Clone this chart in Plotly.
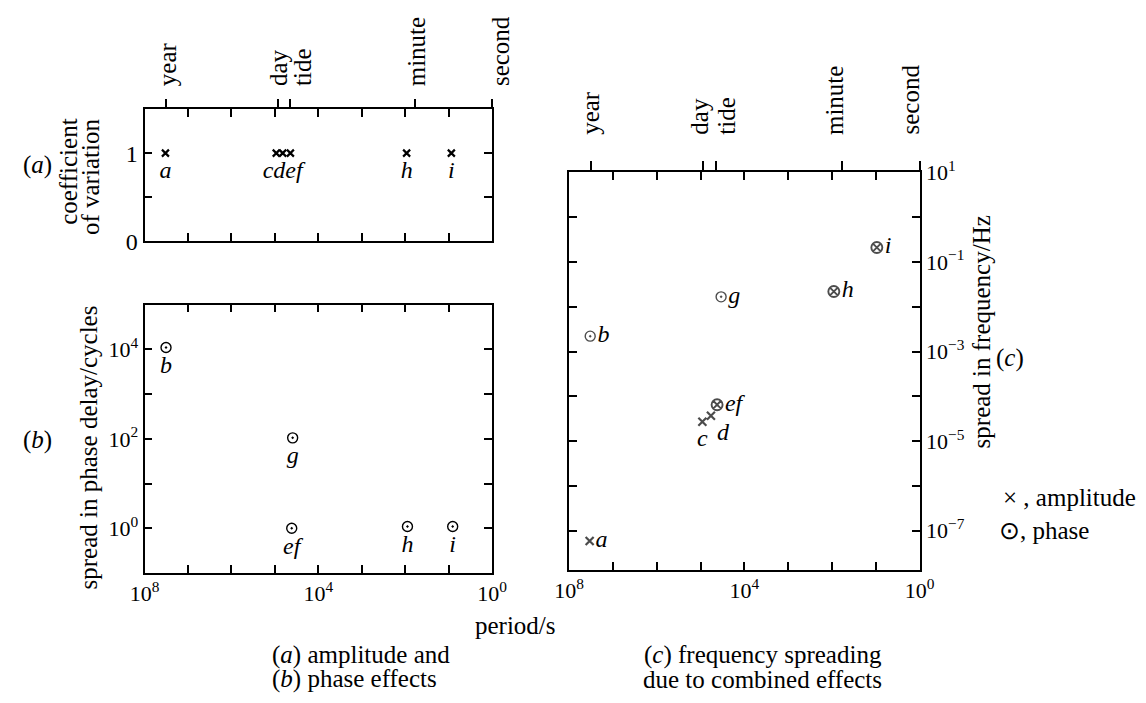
import plotly.graph_objects as go
import math

W, H = 1146, 703
FONT = "Liberation Serif"

# ---------------- data ----------------
landmark_names = ["year", "day", "tide", "minute", "second"]
landmark_periods = [3.156e7, 86400, 44712, 60, 1]

# (a) amplitude effects: coefficient of variation
amp_names = ["a", "c", "d", "e", "h", "i"]
amp_text = ["a", "", "cdef", "", "h", "i"]
amp_period = [3.3e7, 9.3e4, 6.6e4, 4.4e4, 93, 8.7]
amp_cov = [1, 1, 1, 1, 1, 1]

# (b) phase effects: spread in phase delay / cycles
ph_names = ["b", "g", "ef", "h", "i"]
ph_period = [3.2e7, 3.9e4, 4.1e4, 89, 8.1]
ph_spread = [1.1e4, 105, 1.0, 1.1, 1.1]

# (c) frequency spreading due to combined effects
fr_names = ["a", "b", "c", "d", "ef", "g", "h", "i"]
fr_period = [3.4e7, 3.3e7, 9.1e4, 5.8e4, 4.2e4, 3.4e4, 91, 9.5]
fr_spread = [5.9e-8, 2.2e-3, 2.7e-5, 3.7e-5, 6.5e-5, 1.66e-2, 2.19e-2, 0.21]
fr_kind = ["amp", "phase", "amp", "amp", "both", "phase", "both", "both"]
fr_textpos = ["middle right", "middle right", "bottom center", "bottom right",
              "middle right", "middle right", "middle right", "middle right"]

# axis ticks
x_decades = [10 ** k for k in range(0, 9)]
x_labeled = [1e8, 1e4, 1]
x_ticktext = ["10<sup>8</sup>", "10<sup>4</sup>", "10<sup>0</sup>"]
b_decades = [10 ** k for k in range(-1, 6)]
b_labeled = [1e4, 1e2, 1]
b_ticktext = ["10<sup>4</sup>", "10<sup>2</sup>", "10<sup>0</sup>"]
c_decades = [10 ** k for k in range(-7, 2)]
c_labeled = [10.0, 1e-1, 1e-3, 1e-5, 1e-7]
c_ticktext = ["10<sup>1</sup>", "10<sup>−1</sup>", "10<sup>−3</sup>", "10<sup>−5</sup>", "10<sup>−7</sup>"]

# ---------------- helpers ----------------
def fx(px):
    return px / W

def fy(py):
    return 1 - py / H

sym_map = {"amp": "x-thin", "phase": "circle-open-dot", "both": "circle-x-open"}
size_map = {"amp": 8, "phase": 10, "both": 11}
lw_map = {"amp": 2.2, "phase": 1.4, "both": 1.9}
TF = dict(family=FONT, size=24, color="black")

fig = go.Figure()

# (a)
fig.add_trace(go.Scatter(
    x=amp_period, y=amp_cov, mode="markers", xaxis="x", yaxis="y",
    marker=dict(symbol="x-thin", size=7, color="black", line=dict(color="black", width=2.2)),
    showlegend=False, hoverinfo="skip"))
lab_idx = [i for i, t in enumerate(amp_text) if t]
fig.add_trace(go.Scatter(
    x=[amp_period[i] for i in lab_idx], y=[amp_cov[i] for i in lab_idx], mode="markers+text",
    xaxis="x", yaxis="y", text=["<i>%s</i>" % amp_text[i] for i in lab_idx],
    marker=dict(size=10, opacity=0),
    textposition="bottom center", textfont=TF, showlegend=False, hoverinfo="skip"))
fig.add_trace(go.Scatter(x=landmark_periods, y=[0.5] * 5, xaxis="x4", yaxis="y",
                         mode="markers", marker=dict(opacity=0), showlegend=False, hoverinfo="skip"))

# (b)
fig.add_trace(go.Scatter(
    x=ph_period, y=ph_spread, mode="markers+text", xaxis="x2", yaxis="y2",
    text=["<i>%s</i>" % t for t in ph_names], textposition="bottom center", textfont=TF,
    marker=dict(symbol="circle-open-dot", size=10, color="black", line=dict(color="black", width=1.4)),
    showlegend=False, hoverinfo="skip"))

# (c)
fig.add_trace(go.Scatter(
    x=fr_period, y=fr_spread, mode="markers+text", xaxis="x3", yaxis="y3",
    text=["<i>%s</i>" % t for t in fr_names], textposition=fr_textpos, textfont=TF,
    marker=dict(symbol=[sym_map[k] for k in fr_kind], size=[size_map[k] for k in fr_kind],
                color="black", line=dict(color="black", width=[lw_map[k] for k in fr_kind])),
    showlegend=False, hoverinfo="skip"))
fig.add_trace(go.Scatter(x=landmark_periods, y=[1e-3] * 5, xaxis="x5", yaxis="y3",
                         mode="markers", marker=dict(opacity=0), showlegend=False, hoverinfo="skip"))

axcommon = dict(showline=True, linecolor="black", linewidth=1.8, mirror="ticks",
                ticks="inside", ticklen=8, tickwidth=1.5, tickcolor="black",
                showgrid=False, zeroline=False,
                tickfont=dict(family=FONT, size=22, color="black"))

def minor(vals):
    return dict(tickvals=vals, ticks="inside", ticklen=8, tickwidth=1.5, tickcolor="black", showgrid=False)

xa_dom = [fx(133), fx(490)]
xc_dom = [fx(569), fx(929)]

fig.update_layout(
    width=W, height=H, autosize=False,
    margin=dict(l=0, r=0, t=0, b=0),
    paper_bgcolor="white", plot_bgcolor="white",
    font=dict(family=FONT, color="black"),
    xaxis=dict(axcommon, type="log", range=[8, 0], domain=xa_dom, anchor="y",
               tickvals=x_decades, showticklabels=False),
    yaxis=dict(axcommon, range=[0, 1.5], domain=[fy(235), fy(97)], anchor="x",
               tickvals=[0, 1], ticktext=["0", "1"], minor=minor([0.5]),
               tickfont=dict(family=FONT, size=24, color="black")),
    xaxis4=dict(type="log", range=[8, 0], overlaying="x", side="top", anchor="y",
                tickvals=landmark_periods, ticks="outside", ticklen=9, tickwidth=1.5,
                tickcolor="black", showticklabels=False, showline=False, showgrid=False, zeroline=False),
    xaxis2=dict(axcommon, type="log", range=[8, 0], domain=xa_dom, anchor="y2",
                tickvals=x_labeled, ticktext=x_ticktext, minor=minor(x_decades)),
    yaxis2=dict(axcommon, type="log", range=[-1, 5], domain=[fy(581), fy(301)], anchor="x2",
                tickvals=b_labeled, ticktext=b_ticktext, minor=minor(b_decades)),
    xaxis3=dict(axcommon, type="log", range=[8, 0], domain=xc_dom, anchor="y3",
                tickvals=x_labeled, ticktext=x_ticktext, minor=minor(x_decades)),
    yaxis3=dict(axcommon, type="log", range=[-7.88, 1], domain=[fy(578), fy(163)], anchor="x3",
                side="right", tickvals=c_labeled, ticktext=c_ticktext, minor=minor(c_decades)),
    xaxis5=dict(type="log", range=[8, 0], overlaying="x3", side="top", anchor="y3",
                tickvals=landmark_periods, ticks="outside", ticklen=10, tickwidth=1.5,
                tickcolor="black", showticklabels=False, showline=False, showgrid=False, zeroline=False),
)

ann = []
shift_a = {"year": 2, "day": 1, "tide": 13, "minute": 2, "second": 9}
shift_c = {"year": 0, "day": -4, "tide": 11, "minute": -7, "second": -9}
for name, p in zip(landmark_names, landmark_periods):
    ann.append(dict(x=math.log10(p), xref="x", y=fy(75), yref="paper", text=name,
                    textangle=-90, xanchor="center", yanchor="bottom", showarrow=False,
                    xshift=shift_a[name], font=dict(family=FONT, size=25, color="black")))
    ann.append(dict(x=math.log10(p), xref="x3", y=fy(126), yref="paper", text=name,
                    textangle=-90, xanchor="center", yanchor="bottom", showarrow=False,
                    xshift=shift_c[name], font=dict(family=FONT, size=25, color="black")))

def txt(px, py, s, size=25, angle=0, xa="center", ya="middle", align="center"):
    ann.append(dict(x=fx(px), y=fy(py), xref="paper", yref="paper", text=s, textangle=angle,
                    xanchor=xa, yanchor=ya, align=align, showarrow=False,
                    font=dict(family=FONT, size=size, color="black")))

txt(23, 155, "(<i>a</i>)")
txt(55, 163, "coefficient", angle=-90)
txt(77, 168, "of variation", angle=-90)
txt(23, 442, "(<i>b</i>)")
txt(75, 450, "spread in phase delay/cycles", angle=-90)
txt(992, 330, "spread in frequency/Hz", angle=-90)
txt(1022, 357, "(<i>c</i>)")
txt(1012, 502, "× , amplitude", xa="left")
txt(1008, 537, "⊙, phase", xa="left")
txt(514, 636, "period/s")
txt(262, 667, "(<i>a</i>) amplitude and", xa="left")
txt(262, 692, "(<i>b</i>) phase effects", xa="left")
txt(768, 667, "(<i>c</i>) frequency spreading")
txt(768, 692, "due to combined effects")

fig.update_layout(annotations=ann)
fig.write_html("out.html")
